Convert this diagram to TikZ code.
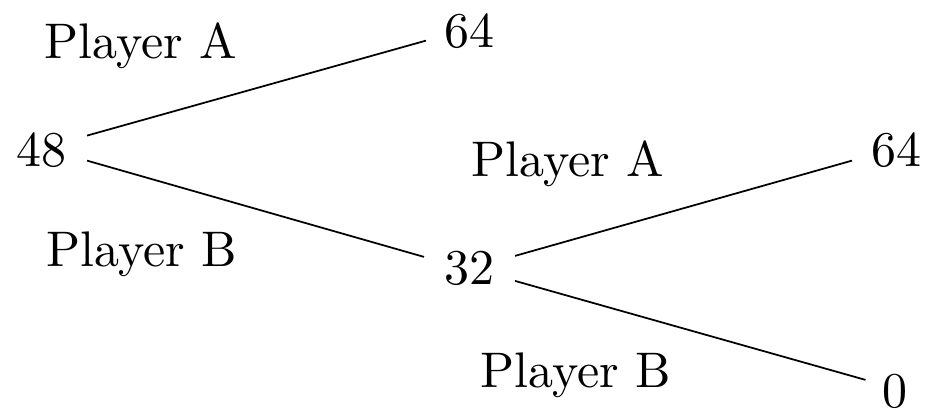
\documentclass[tikz,border=0pt]{standalone}
\usetikzlibrary{calc}
\begin{document}
\begin{tikzpicture}[x=0.2pt,y=-0.2pt,
  lbl/.style={anchor=base,inner sep=0pt,outer sep=0pt,font=\fontsize{10}{12}\selectfont},
  edge/.style={line width=0.35pt,black}]
\useasboundingbox (0,0) rectangle (930,411);
% labels
\node[lbl] (pA1) at (141,59) {Player A};
\node[lbl] (pB1) at (142,267) {Player B};
\node[lbl] (pA2) at (568,177) {Player A};
\node[lbl] (pB2) at (576,387) {Player B};
% values
\node[lbl] (n48) at (42,167) {48};
\node[lbl] (t64) at (469,48) {64};
\node[lbl] (n32) at (469,285) {32};
\node[lbl] (r64) at (896,167) {64};
\node[lbl] (n0) at (895,407) {0};
% edges
\draw[edge] ($(n48.east)+(20,-15)$) -- ($(t64.west)+(-18,9)$);
\draw[edge] ($(n48.east)+(20,10)$) -- ($(n32.west)+(-20,-12)$);
\draw[edge] ($(n32.east)+(21,-13)$) -- ($(r64.west)+(-19,10)$);
\draw[edge] ($(n32.east)+(21,12)$) -- ($(n0.west)+(-17,-11)$);
\end{tikzpicture}
\end{document}
